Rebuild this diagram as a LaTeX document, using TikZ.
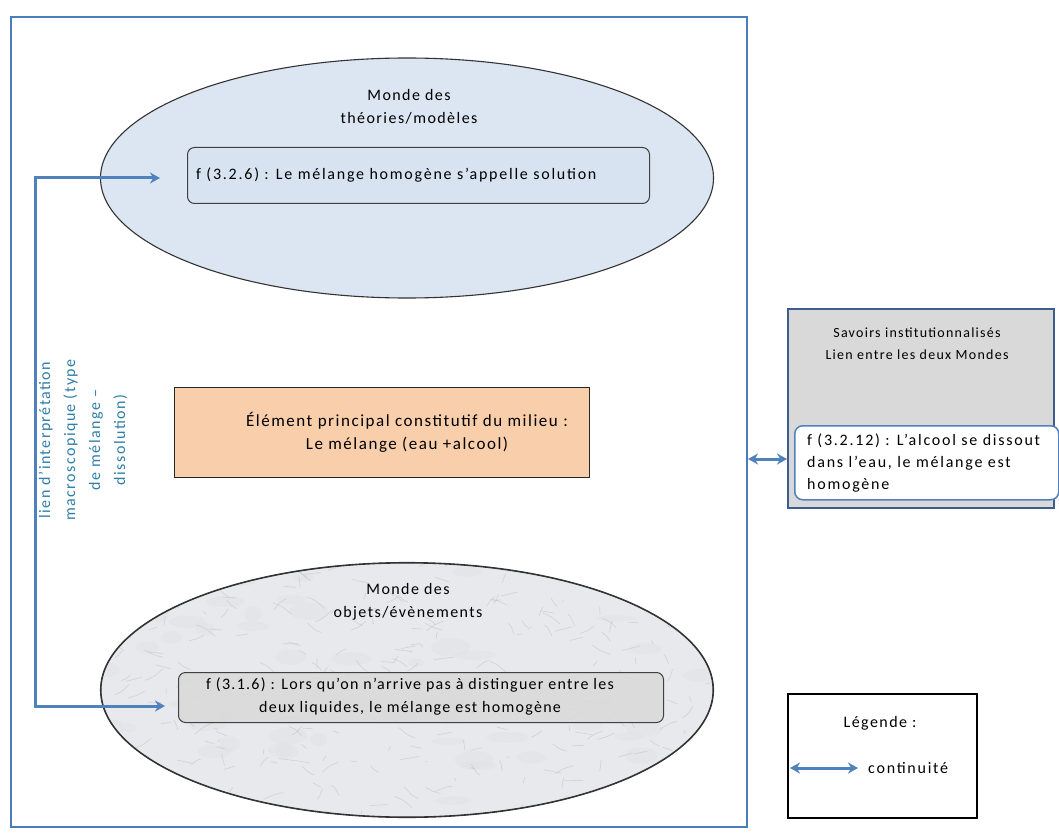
\documentclass[tikz,border=0pt]{standalone}
\usepackage{fontspec}
\setmainfont{Carlito}
\usetikzlibrary{arrows.meta,shapes.geometric}
\definecolor{frameblue}{HTML}{4A7EBB}
\definecolor{arrblue}{HTML}{4F81BD}
\definecolor{tealtxt}{HTML}{2F7FA8}
\definecolor{ellblue}{HTML}{DCE6F2}
\definecolor{boxblue}{HTML}{D7E3F0}
\definecolor{peach}{HTML}{F9CFAB}
\definecolor{greyfill}{HTML}{D9D9D9}
\definecolor{greyborder}{HTML}{3B5E8C}
\definecolor{marble}{HTML}{E7E9ED}
\definecolor{vein}{HTML}{BFC3CB}
\newfontfamily\spA[LetterSpace=9]{Carlito}
\newfontfamily\spW[LetterSpace=11]{Carlito}
\newfontfamily\spN[LetterSpace=8]{Carlito}
\tikzset{
  txt/.style={font=\spA\fontsize{16}{23}\selectfont, inner sep=0pt},
  ell/.style={ellipse, draw=black!80, line width=1.1pt, inner sep=0pt},
  rbox/.style={draw=black!75, line width=1pt, rounded corners=7pt, inner sep=0pt},
  dconn/.style={draw=arrblue, line width=3pt, {Stealth[length=10pt,width=11pt]}-{Stealth[length=10pt,width=11pt]}}
}
\begin{document}
\begin{tikzpicture}[x=1pt,y=-1pt]
\useasboundingbox (0,0) rectangle (1059,834);
\fill[white] (0,0) rectangle (1059,834);
% outer frame
\node[draw=frameblue, line width=2pt, minimum width=736pt, minimum height=810pt, inner sep=0pt, anchor=north west] (frame) at (10,16) {};
% top ellipse
\node[ell, fill=ellblue, minimum width=613pt, minimum height=240pt] (topell) at (407,178) {};
\node[txt, align=center] (toptitle) at (409,107) {Monde des\\théories/modèles};
\node[rbox, fill=boxblue, minimum width=462pt, minimum height=56pt, anchor=north west] (topbox) at (187,147) {};
\node[txt, anchor=west, font=\spW\fontsize{16}{23}\selectfont] (toptext) at (196,175) {f (3.2.6) : Le mélange homogène s’appelle solution};
% orange box
\node[draw=black!85, line width=1.2pt, fill=peach, minimum width=415pt, minimum height=90pt, inner sep=0pt, anchor=north west] (orange) at (174,387) {};
\node[txt, align=center, font=\spA\fontsize{17}{23}\selectfont] (orangetext) at (407,432) {Élément principal constitutif du milieu :\\Le mélange (eau +alcool)};
% bottom ellipse with marble texture
\node[ell, fill=marble, minimum width=613pt, minimum height=255pt] (botell) at (407,690) {};
\begin{scope}
\clip (407,690) ellipse [x radius=305pt, y radius=126pt];
\pgfmathsetseed{11}
\foreach \i in {1,...,70}{
  \fill[black!12, opacity=0.35] ({100+rnd*620},{560+rnd*260}) ellipse [x radius={8+rnd*14}, y radius={3+rnd*6}];
}
\foreach \i in {1,...,320}{
  \pgfmathsetmacro{\xa}{100+rnd*620}
  \pgfmathsetmacro{\ya}{560+rnd*260}
  \pgfmathsetmacro{\dx}{rnd*40-20}
  \pgfmathsetmacro{\dy}{rnd*24-12}
  \draw[vein, line width=0.7pt, opacity=0.55] (\xa,\ya) .. controls (\xa+\dx*0.5,\ya+\dy*0.3) .. (\xa+\dx,\ya+\dy);
}
\end{scope}
\draw[black!80, line width=1.1pt] (407,690) ellipse [x radius=306pt, y radius=127pt];
\node[txt, align=center] (bottitle) at (408,602) {Monde des\\objets/évènements};
\node[rbox, fill=greyfill, fill opacity=0.85, minimum width=485pt, minimum height=50pt, anchor=north west] (botbox) at (178,672) {};
\node[txt, align=center, font=\spN\fontsize{16}{23}\selectfont] (bottext) at (410,697) {f (3.1.6) : Lors qu’on n’arrive pas à distinguer entre les\\deux liquides, le mélange est homogène};
% left connector
\coordinate (ltop) at (160,178);
\coordinate (lbot) at (165,706);
\coordinate (lc1) at (35,178);
\coordinate (lc2) at (35,706);
\draw[dconn] (ltop) -- (lc1) -- (lc2) -- (lbot);
\node[txt, text=tealtxt, align=center, rotate=90, font=\spA\fontsize{16}{25}\selectfont] (lientext) at (83,440) {lien d’interprétation\\macroscopique (type\\de mélange –\\dissolution)};
% right grey box
\node[draw=greyborder, line width=2pt, fill=greyfill, minimum width=266pt, minimum height=199pt, inner sep=0pt, anchor=north west] (savoirs) at (787,308) {};
\node[txt, align=center, font=\spA\fontsize{14}{22}\selectfont] (savtext) at (917,344) {Savoirs institutionnalisés\\Lien entre les deux Mondes};
\node[draw=arrblue, line width=1.5pt, fill=white, rounded corners=8pt, minimum width=264pt, minimum height=74pt, inner sep=0pt, anchor=north west] (savbox) at (794,425) {};
\node[txt, align=left, anchor=west, font=\spW\fontsize{16}{22}\selectfont] (savboxtext) at (807,463) {f (3.2.12) : L’alcool se dissout\\dans l’eau, le mélange est\\homogène};
\coordinate (ra) at (748,459);
\draw[dconn] (ra) -- (ra -| savoirs.west);
% legend
\node[draw=black, line width=2pt, minimum width=189pt, minimum height=124pt, inner sep=0pt, anchor=north west] (legend) at (787,693) {};
\node[txt, font=\spA\fontsize{16}{22}\selectfont] (legtitle) at (880,723) {Légende :};
\coordinate (la) at (790,768);
\coordinate (lb) at (858,768);
\draw[dconn] (la) -- (lb);
\node[txt, anchor=west, font=\spW\fontsize{16}{22}\selectfont] (legtext) at (868,768) {continuité};
\end{tikzpicture}
\end{document}
